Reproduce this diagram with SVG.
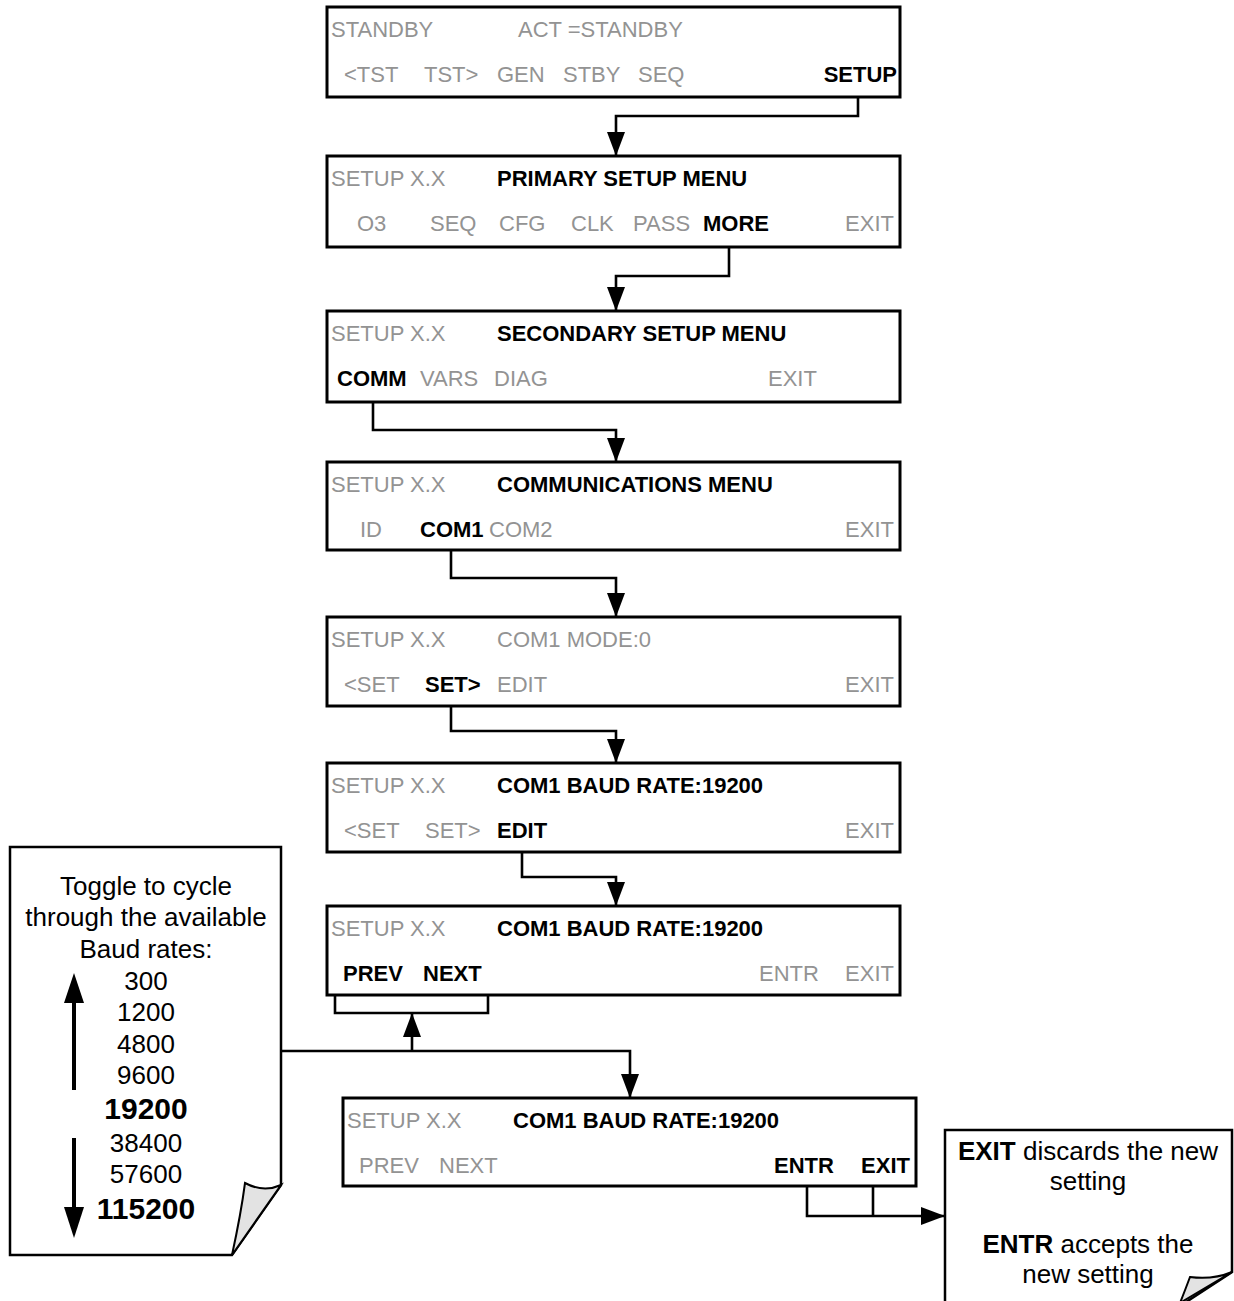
<svg xmlns="http://www.w3.org/2000/svg" width="1234" height="1301" viewBox="0 0 1234 1301">
<defs>
<style>
.box{fill:#fff;stroke:#000;stroke-width:3}
text{font-family:"Liberation Sans",Arial,sans-serif;font-size:22px}
.g{fill:#939393}
.b{fill:#000;font-weight:bold}
.e{text-anchor:end}
.conn{fill:none;stroke:#000;stroke-width:2.6}
.arr{marker-end:url(#ah)}
.note{fill:#fff;stroke:#000;stroke-width:2.5;stroke-linejoin:miter}
.curl{fill:#e3e3e3;stroke:#000;stroke-width:2}
.nt{font-size:26px;text-anchor:middle;fill:#000}
.nb{font-size:30px;font-weight:bold}
</style>
<marker id="ah" markerUnits="userSpaceOnUse" markerWidth="24" markerHeight="18" refX="24" refY="9" orient="auto">
<path d="M0,0 L24,9 L0,18 Z" fill="#000"/>
</marker>
</defs>
<rect width="1234" height="1301" fill="#fff"/>

<g id="connectors">
<path class="conn arr" d="M858,97 V116 H616 V156"/>
<path class="conn arr" d="M729,247 V276 H616 V311"/>
<path class="conn arr" d="M373,402 V430 H616 V462"/>
<path class="conn arr" d="M451,550 V578 H616 V617"/>
<path class="conn arr" d="M451,706 V731 H616 V763"/>
<path class="conn arr" d="M522,852 V877 H616 V906"/>
<path class="conn" d="M335,963 V1013 H488 V963"/>
<path class="conn arr" d="M412,1051 V1013"/>
<path class="conn arr" d="M281,1051 H630 V1098"/>
<path class="conn arr" d="M807,1186 V1216 H945"/>
<path class="conn" d="M873,1186 V1216"/>
</g>

<g id="box-standby">
<rect class="box" x="327" y="7" width="573" height="90"/>
<text class="g" x="331" y="37">STANDBY</text>
<text class="g" x="518" y="37">ACT =STANDBY</text>
<text class="g" x="344" y="82">&lt;TST</text>
<text class="g" x="424" y="82">TST&gt;</text>
<text class="g" x="497" y="82">GEN</text>
<text class="g" x="563" y="82">STBY</text>
<text class="g" x="638" y="82">SEQ</text>
<text class="b e" x="897" y="82">SETUP</text>
</g>

<g id="box-primary">
<rect class="box" x="327" y="156" width="573" height="91"/>
<text class="g" x="331" y="186">SETUP X.X</text>
<text class="b" x="497" y="186">PRIMARY SETUP MENU</text>
<text class="g" x="357" y="231">O3</text>
<text class="g" x="430" y="231">SEQ</text>
<text class="g" x="499" y="231">CFG</text>
<text class="g" x="571" y="231">CLK</text>
<text class="g" x="633" y="231">PASS</text>
<text class="b" x="703" y="231">MORE</text>
<text class="g e" x="894" y="231">EXIT</text>
</g>

<g id="box-secondary">
<rect class="box" x="327" y="311" width="573" height="91"/>
<text class="g" x="331" y="341">SETUP X.X</text>
<text class="b" x="497" y="341">SECONDARY SETUP MENU</text>
<text class="b" x="337" y="386">COMM</text>
<text class="g" x="420" y="386">VARS</text>
<text class="g" x="494" y="386">DIAG</text>
<text class="g" x="768" y="386">EXIT</text>
</g>

<g id="box-comm">
<rect class="box" x="327" y="462" width="573" height="88"/>
<text class="g" x="331" y="492">SETUP X.X</text>
<text class="b" x="497" y="492">COMMUNICATIONS MENU</text>
<text class="g" x="360" y="537">ID</text>
<text class="b" x="420" y="537">COM1</text>
<text class="g" x="489" y="537">COM2</text>
<text class="g e" x="894" y="537">EXIT</text>
</g>

<g id="box-com1-mode">
<rect class="box" x="327" y="617" width="573" height="89"/>
<text class="g" x="331" y="647">SETUP X.X</text>
<text class="g" x="497" y="647">COM1 MODE:0</text>
<text class="g" x="344" y="692">&lt;SET</text>
<text class="b" x="425" y="692">SET&gt;</text>
<text class="g" x="497" y="692">EDIT</text>
<text class="g e" x="894" y="692">EXIT</text>
</g>

<g id="box-baud">
<rect class="box" x="327" y="763" width="573" height="89"/>
<text class="g" x="331" y="793">SETUP X.X</text>
<text class="b" x="497" y="793">COM1 BAUD RATE:19200</text>
<text class="g" x="344" y="838">&lt;SET</text>
<text class="g" x="425" y="838">SET&gt;</text>
<text class="b" x="497" y="838">EDIT</text>
<text class="g e" x="894" y="838">EXIT</text>
</g>

<g id="box-baud-edit">
<rect class="box" x="327" y="906" width="573" height="89"/>
<text class="g" x="331" y="936">SETUP X.X</text>
<text class="b" x="497" y="936">COM1 BAUD RATE:19200</text>
<text class="b" x="343" y="981">PREV</text>
<text class="b" x="423" y="981">NEXT</text>
<text class="g" x="759" y="981">ENTR</text>
<text class="g e" x="894" y="981">EXIT</text>
</g>

<g id="box-baud-confirm">
<rect class="box" x="343" y="1098" width="573" height="88"/>
<text class="g" x="347" y="1128">SETUP X.X</text>
<text class="b" x="513" y="1128">COM1 BAUD RATE:19200</text>
<text class="g" x="359" y="1173">PREV</text>
<text class="g" x="439" y="1173">NEXT</text>
<text class="b" x="774" y="1173">ENTR</text>
<text class="b e" x="910" y="1173">EXIT</text>
</g>

<g id="note-baud">
<path class="note" d="M10,847 H281 V1185 L232,1255 H10 Z"/>
<path class="curl" d="M232,1255 C237,1232 242,1206 245,1183 C258,1190 270,1190 281,1185 Z"/>
<text class="nt" x="146" y="895">Toggle to cycle</text>
<text class="nt" x="146" y="926">through the available</text>
<text class="nt" x="146" y="958">Baud rates:</text>
<text class="nt" x="146" y="990">300</text>
<text class="nt" x="146" y="1021">1200</text>
<text class="nt" x="146" y="1053">4800</text>
<text class="nt" x="146" y="1084">9600</text>
<text class="nt nb" x="146" y="1119">19200</text>
<text class="nt" x="146" y="1152">38400</text>
<text class="nt" x="146" y="1183">57600</text>
<text class="nt nb" x="146" y="1219">115200</text>
<line x1="74" y1="1090" x2="74" y2="1000" stroke="#000" stroke-width="4"/>
<path d="M74,973 L84,1003 L64,1003 Z" fill="#000"/>
<line x1="74" y1="1138" x2="74" y2="1210" stroke="#000" stroke-width="4"/>
<path d="M74,1238 L84,1207 L64,1207 Z" fill="#000"/>
</g>

<g id="note-exit">
<path class="note" d="M945,1130 H1232 V1272 L1180,1306 H945 Z"/>
<path class="curl" d="M1180,1303 C1184,1293 1187,1285 1190,1277 C1205,1279 1220,1277 1232,1272 Z"/>
<text class="nt" x="1088" y="1160"><tspan font-weight="bold">EXIT</tspan> discards the new</text>
<text class="nt" x="1088" y="1190">setting</text>
<text class="nt" x="1088" y="1253"><tspan font-weight="bold">ENTR</tspan> accepts the</text>
<text class="nt" x="1088" y="1283">new setting</text>
</g>
</svg>
